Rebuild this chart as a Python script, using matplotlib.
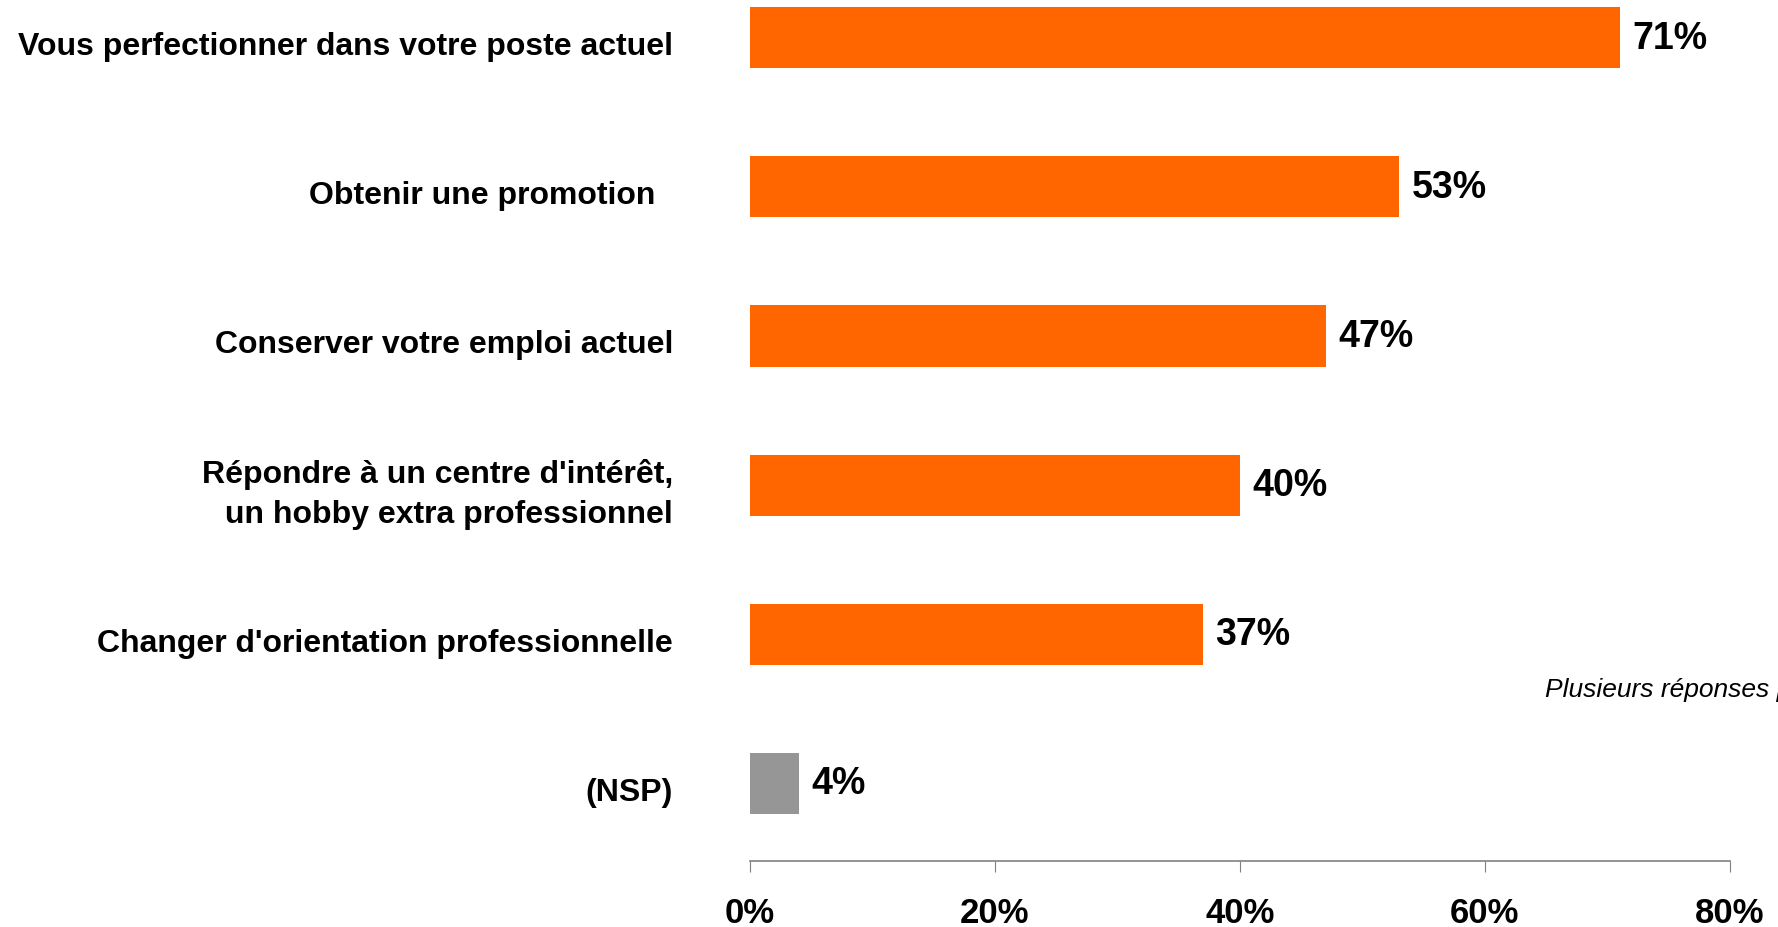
import matplotlib.pyplot as plt
import matplotlib.transforms as mtransforms

# données
categories = ["Vous perfectionner dans votre poste actuel",
              "Obtenir une promotion  ",
              "Conserver votre emploi actuel",
              "Répondre à un centre d'intérêt,\n un hobby extra professionnel",
              "Changer d'orientation professionnelle",
              "(NSP)"]
valeurs = [71, 53, 47, 40, 37, 4]
cores = ["#FF6600"] * 5 + ["#969696"]
ticks = [0, 20, 40, 60, 80]
tick_labels = ["0%", "20%", "40%", "60%", "80%"]

plt.rcParams['font.family'] = ['Liberation Sans', 'DejaVu Sans']

fig = plt.figure(figsize=(17.78, 9.28), dpi=100)
ax = fig.add_axes([0.4216, 0.0711, 0.5514, 0.9289])

pos = list(range(len(categories)))
bars = ax.barh(pos, valeurs, height=0.41, color=cores)
ax.set_ylim(5.52, -0.26)
ax.set_xlim(0, 80)

# étiquettes de valeurs
for b, v in zip(bars, valeurs):
    ax.annotate(f"{v}%", (b.get_width(), b.get_y() + b.get_height() / 2),
                xytext=(9, 0), textcoords="offset points",
                va="center", ha="left", fontsize=27, fontweight="bold")

# libellés des catégories
ax.set_yticks(pos)
ax.set_yticklabels(categories, fontsize=23, fontweight="bold",
                   ha="right", linespacing=1.4, va="center")
ax.tick_params(axis="y", length=0, pad=55)
decal = mtransforms.ScaledTranslation(0, -6 / 72, fig.dpi_scale_trans)
for t in ax.get_yticklabels():
    t.set_transform(t.get_transform() + decal)

ax.set_xticks(ticks)
ax.set_xticklabels(tick_labels, fontsize=25, fontweight="bold")
ax.tick_params(axis="x", direction="out", length=8, color="#808080", pad=17)

for s in ["top", "right", "left"]:
    ax.spines[s].set_visible(False)
ax.spines["bottom"].set_color("#808080")
ax.spines["bottom"].set_linewidth(1.2)

fig.text(1545 / 1778, 1 - 690 / 928, "Plusieurs réponses possibles",
         fontsize=19, style="italic", va="center", ha="left")

plt.savefig("out.png", dpi=100)
